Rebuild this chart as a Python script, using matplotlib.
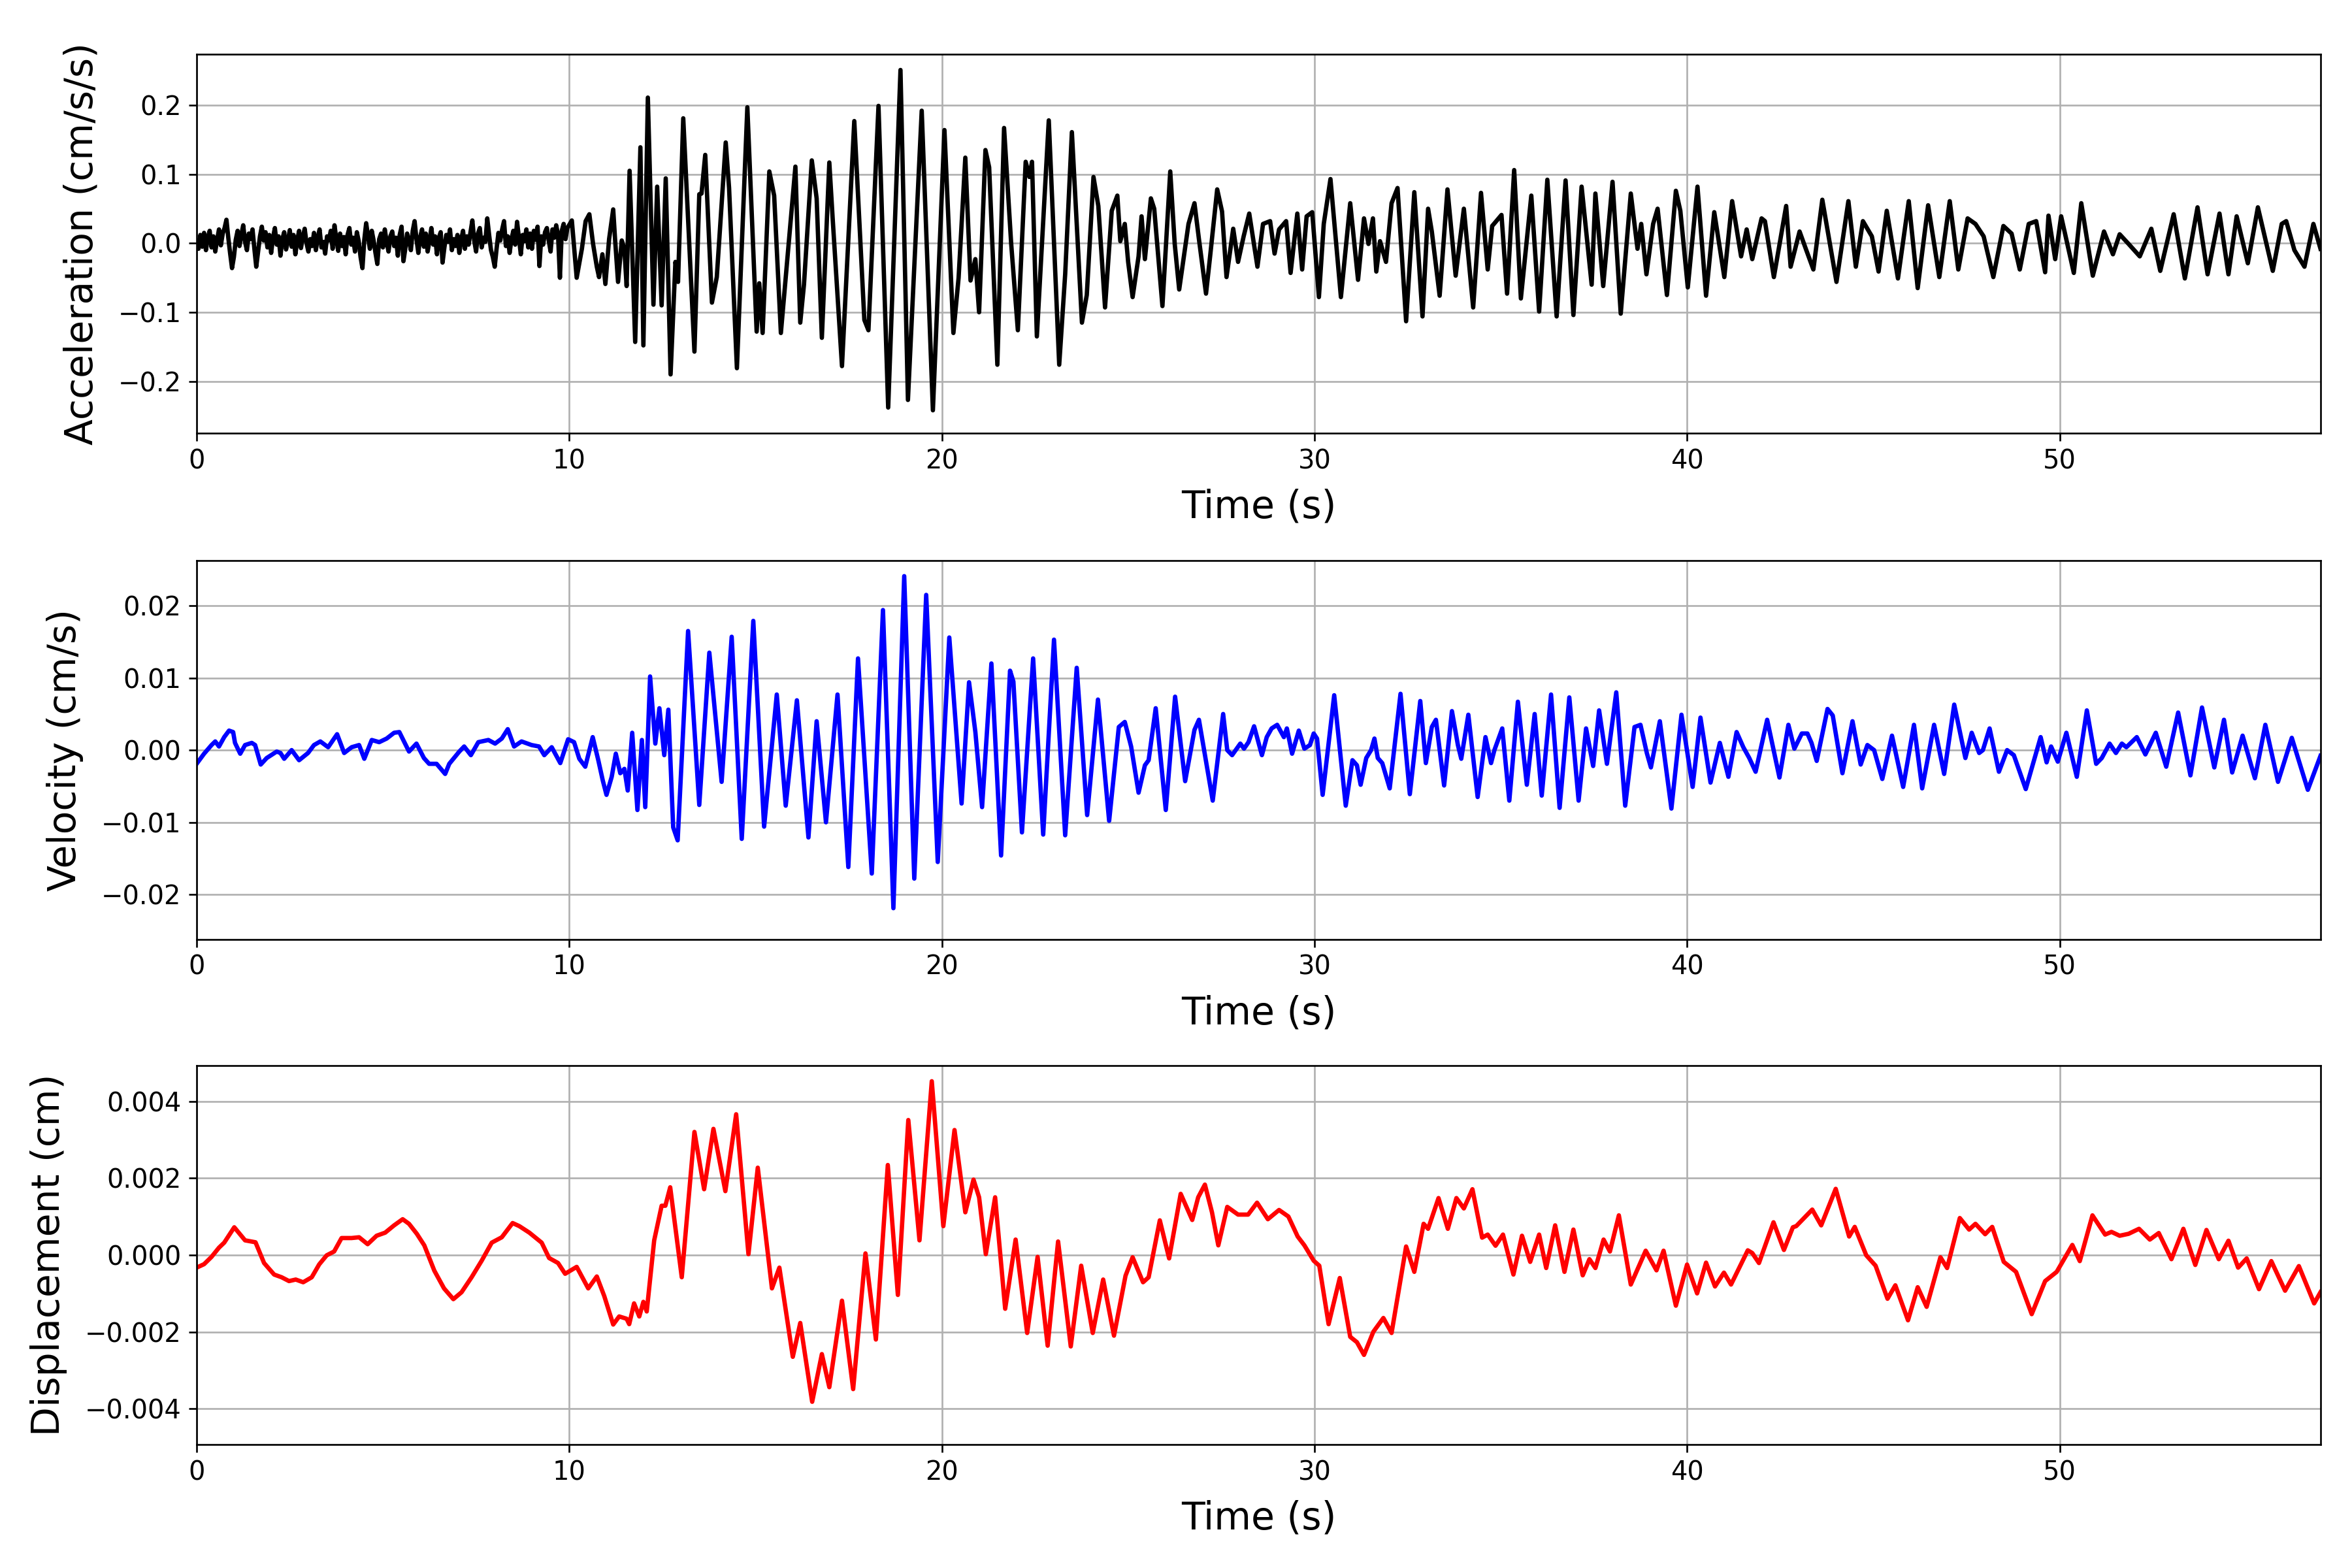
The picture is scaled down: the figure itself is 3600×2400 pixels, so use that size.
import numpy as np
import matplotlib
matplotlib.use('Agg')
import matplotlib.pyplot as plt

# ---------------------------------------------------------#
# Values                               #
# ---------------------------------------------------------#
# pre-event noise, acceleration sampled every 0.05 s, in 1e-3 cm/s/s
acc_pre_dt = 0.05
acc_pre = [
    3, -8, 12, -5, 15, -10, 8, 18, -6, 10, -12, 5, 20, -3, 14, 22, 34, 8, -15, -36,
    -20, 5, 18, -4, 12, 26, 2, -10, 14, 6, 20, -8, -34, -12, 10, 24, 4, 16, -6, 12,
    -14, 8, 22, -2, 10, -18, 6, 16, -9, 3, 19, -5, 12, -16, 4, 18, -7, 9, 21, 0,
    -12, 6, -4, 15, -10, 8, 20, -6, 2, -15, 10, 4, 18, -8, 26, 6, -11, 14, -4, 9,
    -16, 12, 22, -2, 8, -12, 16, 3, -20, -36, 5, 29, 10, -8, 18, 4, -14, -30, 6, 14,
    -6, 20, 2, -12, 10, 17, -4, 8, -18, 12, 24, -26, -8, 14, 4, -10, 18, 32, 6, -14,
    9, 20, -5, 14, -12, 4, 22, -2, 10, -16, 8, 16, -28, -6, 12, 2, 20, -10, 6, -4,
    12, -14, 5, 18, -8, 10, -2, 16, 33, 4, -12, 14, 22, -6, 8, 2, 36, 12, -10, -20,
    -34, -8, 15, 4, 20, 32, -4, 10, -14, 6, 18, -2, 31, 8, -16, 12, 3, 20, -6, 14,
    -8, 18, 5, 24, -33, 10, -2, 16, 22, 4, -12, 20, 8, 26, 12, -50, 18, 28, 6, 22,
]

# strong motion part: (time s, acceleration cm/s/s)
acc_t = [10.07, 10.2, 10.34, 10.44, 10.54, 10.64, 10.74, 10.8, 10.89, 10.97, 11.07, 11.18, 11.23, 11.31,
         11.41, 11.48, 11.54, 11.62, 11.77, 11.91, 11.99, 12.11, 12.26, 12.36, 12.48, 12.59, 12.72, 12.85,
         12.92, 13.06, 13.36, 13.49, 13.55, 13.65, 13.83, 13.96, 14.2, 14.29, 14.5, 14.78, 15.03, 15.1,
         15.19, 15.37, 15.5, 15.68, 16.07, 16.2, 16.3, 16.51, 16.64, 16.78, 16.98, 17.07, 17.32, 17.65,
         17.92, 18.03, 18.3, 18.56, 18.89, 19.09, 19.46, 19.76, 20.07, 20.31, 20.45, 20.63, 20.77, 20.9,
         21.0, 21.17, 21.27, 21.49, 21.67, 21.86, 22.04, 22.25, 22.35, 22.42, 22.55, 22.87, 23.15, 23.31,
         23.49, 23.76, 23.89, 24.07, 24.2, 24.38, 24.56, 24.71, 24.79, 24.91, 25.0, 25.12, 25.28, 25.36,
         25.45, 25.61, 25.7, 25.92, 26.13, 26.25, 26.37, 26.62, 26.78, 26.9, 27.09, 27.2, 27.39, 27.52,
         27.64, 27.82, 27.95, 28.1, 28.25, 28.47, 28.62, 28.81, 28.93, 29.05, 29.24, 29.36, 29.54, 29.67,
         29.79, 29.94, 30.12, 30.25, 30.43, 30.71, 30.96, 31.17, 31.33, 31.45, 31.57, 31.66, 31.76, 31.92,
         32.07, 32.23, 32.46, 32.68, 32.9, 33.05, 33.15, 33.36, 33.57, 33.79, 34.01, 34.26, 34.47, 34.65,
         34.77, 35.02, 35.17, 35.36, 35.54, 35.82, 36.03, 36.25, 36.5, 36.74, 36.95, 37.17, 37.44, 37.54,
         37.75, 38.0, 38.22, 38.49, 38.67, 38.77, 38.91, 39.09, 39.21, 39.46, 39.7, 39.82, 40.02, 40.28,
         40.51, 40.73, 41.0, 41.21, 41.45, 41.6, 41.75, 42.0, 42.09, 42.33, 42.66, 42.78, 43.02, 43.2,
         43.39, 43.63, 44.01, 44.33, 44.53, 44.72, 44.96, 45.14, 45.36, 45.66, 45.95, 46.19, 46.47, 46.77,
         47.05, 47.28, 47.53, 47.74, 47.96, 48.22, 48.49, 48.71, 48.93, 49.17, 49.37, 49.61, 49.7, 49.88,
         50.04, 50.38, 50.58, 50.89, 51.19, 51.43, 51.61, 51.85, 52.15, 52.46, 52.7, 53.06, 53.36, 53.7,
         53.97, 54.29, 54.53, 54.75, 55.05, 55.32, 55.72, 55.96, 56.08, 56.3, 56.57, 56.81, 57.0]
acc_v = [0.033, -0.05, -0.008, 0.032, 0.042, -0.001, -0.034, -0.049, -0.016, -0.059, 0.006, 0.049, 0.006, -0.056,
         0.004, -0.008, -0.062, 0.105, -0.143, 0.139, -0.148, 0.211, -0.089, 0.082, -0.09, 0.094, -0.19, -0.027,
         -0.056, 0.181, -0.157, 0.071, 0.072, 0.128, -0.086, -0.049, 0.146, 0.08, -0.181, 0.197, -0.128, -0.058,
         -0.13, 0.104, 0.069, -0.13, 0.111, -0.115, -0.06, 0.12, 0.065, -0.137, 0.117, 0.036, -0.178, 0.177,
         -0.111, -0.126, 0.199, -0.238, 0.251, -0.227, 0.192, -0.242, 0.164, -0.13, -0.05, 0.124, -0.054, -0.023,
         -0.1, 0.135, 0.11, -0.176, 0.167, 0.0, -0.126, 0.118, 0.096, 0.118, -0.135, 0.178, -0.176, -0.045,
         0.161, -0.115, -0.075, 0.096, 0.054, -0.093, 0.047, 0.069, 0.003, 0.028, -0.027, -0.078, -0.019, 0.039,
         -0.023, 0.065, 0.05, -0.091, 0.104, -0.001, -0.067, 0.028, 0.058, 0.006, -0.073, -0.019, 0.078, 0.046,
         -0.049, 0.021, -0.027, 0.01, 0.043, -0.034, 0.028, 0.032, -0.015, 0.02, 0.032, -0.043, 0.043, -0.038,
         0.039, 0.045, -0.078, 0.028, 0.093, -0.078, 0.058, -0.053, 0.036, -0.001, 0.036, -0.041, 0.003, -0.027,
         0.058, 0.08, -0.113, 0.074, -0.106, 0.05, 0.017, -0.076, 0.078, -0.047, 0.05, -0.093, 0.073, -0.038,
         0.025, 0.041, -0.073, 0.106, -0.08, 0.069, -0.099, 0.092, -0.106, 0.091, -0.104, 0.082, -0.06, 0.072,
         -0.062, 0.089, -0.102, 0.072, -0.008, 0.028, -0.045, 0.028, 0.05, -0.075, 0.076, 0.047, -0.064, 0.082,
         -0.076, 0.045, -0.049, 0.061, -0.019, 0.02, -0.023, 0.036, 0.032, -0.049, 0.054, -0.034, 0.017, -0.01,
         -0.038, 0.063, -0.056, 0.061, -0.034, 0.032, 0.01, -0.041, 0.047, -0.051, 0.061, -0.065, 0.055, -0.049,
         0.061, -0.038, 0.036, 0.028, 0.01, -0.049, 0.025, 0.014, -0.038, 0.028, 0.032, -0.042, 0.04, -0.023,
         0.039, -0.043, 0.058, -0.047, 0.017, -0.016, 0.013, -0.001, -0.019, 0.021, -0.04, 0.042, -0.051, 0.052,
         -0.045, 0.043, -0.045, 0.039, -0.029, 0.052, -0.04, 0.028, 0.032, -0.01, -0.034, 0.028, -0.008]

# velocity (time s, cm/s)
vel_t = [0.0, 0.2, 0.4, 0.5, 0.6, 0.74, 0.87, 0.98, 1.03, 1.17, 1.3, 1.48, 1.57, 1.72, 1.88, 2.0, 2.15, 2.25,
         2.35, 2.55, 2.75, 2.99, 3.15, 3.32, 3.53, 3.77, 3.96, 4.16, 4.36, 4.5, 4.7, 4.9, 5.1, 5.3, 5.44, 5.7,
         5.9, 6.1, 6.24, 6.44, 6.67, 6.78, 7.05, 7.18, 7.36, 7.56, 7.83, 8.01, 8.19, 8.35, 8.52, 8.72, 8.99,
         9.19, 9.33, 9.53, 9.76, 9.97, 10.13, 10.27, 10.43, 10.63, 10.78, 10.9, 11.0, 11.14, 11.25, 11.37,
         11.48, 11.57, 11.69, 11.83, 11.95, 12.04, 12.17, 12.31, 12.42, 12.55, 12.66, 12.79, 12.91, 13.19,
         13.49, 13.76, 14.09, 14.36, 14.63, 14.94, 15.23, 15.57, 15.81, 16.11, 16.42, 16.64, 16.89, 17.2,
         17.49, 17.75, 18.12, 18.42, 18.7, 18.99, 19.26, 19.58, 19.89, 20.2, 20.53, 20.73, 20.9, 21.08, 21.33,
         21.59, 21.83, 21.92, 22.15, 22.45, 22.72, 23.01, 23.31, 23.62, 23.9, 24.19, 24.49, 24.75, 24.91,
         25.08, 25.28, 25.45, 25.55, 25.74, 26.01, 26.26, 26.53, 26.78, 26.9, 27.27, 27.55, 27.66, 27.79,
         28.01, 28.11, 28.23, 28.38, 28.59, 28.72, 28.85, 29.0, 29.18, 29.26, 29.4, 29.58, 29.73, 29.88,
         29.98, 30.07, 30.22, 30.53, 30.84, 31.02, 31.14, 31.24, 31.39, 31.52, 31.61, 31.7, 31.82, 32.02,
         32.31, 32.56, 32.84, 32.99, 33.15, 33.26, 33.48, 33.69, 33.85, 33.94, 34.13, 34.38, 34.59, 34.74,
         34.83, 35.04, 35.23, 35.46, 35.7, 35.91, 36.1, 36.35, 36.58, 36.84, 37.09, 37.29, 37.48, 37.64,
         37.85, 38.1, 38.34, 38.59, 38.75, 38.92, 39.03, 39.27, 39.58, 39.85, 40.15, 40.36, 40.63, 40.88,
         41.11, 41.33, 41.51, 41.67, 41.84, 42.15, 42.48, 42.72, 42.88, 43.08, 43.23, 43.34, 43.48, 43.77,
         43.91, 44.17, 44.44, 44.66, 44.84, 45.02, 45.24, 45.5, 45.8, 46.09, 46.31, 46.63, 46.9, 47.17,
         47.47, 47.64, 47.84, 47.94, 48.12, 48.37, 48.59, 48.77, 49.09, 49.49, 49.65, 49.77, 49.95, 50.18,
         50.46, 50.73, 50.98, 51.13, 51.34, 51.51, 51.67, 51.79, 52.07, 52.3, 52.58, 52.86, 53.18, 53.51,
         53.82, 54.15, 54.41, 54.63, 54.91, 55.24, 55.52, 55.86, 56.23, 56.66, 57.0]
vel_v = [-0.0019, -0.0005, 0.0007, 0.0012, 0.0005, 0.0018, 0.0027, 0.0025, 0.001, -0.0005, 0.0007, 0.001, 0.0007,
         -0.002, -0.0011, -0.0007, -0.0002, -0.0004, -0.0012, 0.0, -0.0014, -0.0004, 0.0007, 0.0012, 0.0004,
         0.0022, -0.0004, 0.0004, 0.0007, -0.0012, 0.0014, 0.0011, 0.0016, 0.0024, 0.0025, -0.0002, 0.0009,
         -0.0011, -0.0019, -0.0019, -0.0033, -0.0019, -0.0002, 0.0005, -0.0007, 0.0011, 0.0014, 0.0009, 0.0016,
         0.0029, 0.0005, 0.0012, 0.0007, 0.0005, -0.0007, 0.0004, -0.0018, 0.0015, 0.0011, -0.0012, -0.0023,
         0.0018, -0.0014, -0.0042, -0.0062, -0.0037, -0.0005, -0.0032, -0.0026, -0.0056, 0.0024, -0.0083,
         0.0014, -0.0079, 0.0102, 0.0009, 0.0058, -0.0007, 0.0056, -0.0107, -0.0125, 0.0165, -0.0076, 0.0135,
         -0.0044, 0.0157, -0.0123, 0.0179, -0.0106, 0.0077, -0.0077, 0.0069, -0.0121, 0.004, -0.01, 0.0077,
         -0.0162, 0.0127, -0.0171, 0.0194, -0.0219, 0.0241, -0.0178, 0.0215, -0.0155, 0.0156, -0.0074, 0.0094,
         0.0025, -0.0079, 0.012, -0.0146, 0.011, 0.0095, -0.0114, 0.0127, -0.0117, 0.0153, -0.0118, 0.0114,
         -0.009, 0.007, -0.0098, 0.0032, 0.0039, 0.0005, -0.0059, -0.0021, -0.0014, 0.0058, -0.0083, 0.0074,
         -0.0043, 0.0028, 0.0042, -0.007, 0.005, 0.0, -0.0007, 0.0009, 0.0002, 0.0011, 0.0033, -0.0007, 0.0018,
         0.003, 0.0035, 0.0018, 0.003, -0.0005, 0.0027, 0.0002, 0.0007, 0.0023, 0.0016, -0.0062, 0.0076,
         -0.0077, -0.0014, -0.0021, -0.0048, -0.0011, 0.0, 0.0016, -0.0011, -0.0018, -0.0053, 0.0078, -0.0061,
         0.0068, -0.0018, 0.0032, 0.0042, -0.0049, 0.0054, 0.0007, -0.0012, 0.0049, -0.0065, 0.0018, -0.0018,
         0.0, 0.003, -0.007, 0.0067, -0.0048, 0.005, -0.0063, 0.0077, -0.008, 0.0073, -0.007, 0.003, -0.0022,
         0.0055, -0.0019, 0.008, -0.0077, 0.0032, 0.0035, -0.0004, -0.0024, 0.004, -0.0081, 0.0049, -0.0051,
         0.0045, -0.0045, 0.001, -0.0037, 0.0025, 0.0004, -0.0011, -0.003, 0.0042, -0.0038, 0.0035, 0.0002,
         0.0023, 0.0023, 0.001, -0.0015, 0.0057, 0.0048, -0.0032, 0.004, -0.002, 0.0007, 0.0, -0.004, 0.002,
         -0.0051, 0.0035, -0.0053, 0.0035, -0.0033, 0.0063, -0.0011, 0.0024, -0.0004, 0.0, 0.003, -0.003, 0.0,
         -0.0007, -0.0054, 0.0018, -0.0017, 0.0005, -0.0016, 0.0024, -0.0037, 0.0055, -0.0019, -0.0011, 0.0009,
         -0.0004, 0.0009, 0.0004, 0.0018, -0.0006, 0.0024, -0.0023, 0.0052, -0.0035, 0.0059, -0.0024, 0.0042,
         -0.0031, 0.002, -0.0039, 0.0035, -0.0044, 0.0017, -0.0055, -0.0008]

# displacement (time s, 1e-3 cm)
dis_t = [0.0, 0.2, 0.4, 0.6, 0.74, 1.01, 1.3, 1.58, 1.81, 2.08, 2.28, 2.48, 2.66, 2.86, 3.09, 3.29, 3.49, 3.69,
         3.89, 4.16, 4.36, 4.59, 4.83, 5.06, 5.3, 5.53, 5.7, 5.91, 6.11, 6.38, 6.64, 6.89, 7.11, 7.38, 7.65,
         7.92, 8.19, 8.48, 8.66, 8.93, 9.26, 9.46, 9.7, 9.89, 10.2, 10.51, 10.74, 10.94, 11.18, 11.34, 11.54,
         11.61, 11.74, 11.88, 11.99, 12.08, 12.28, 12.48, 12.58, 12.71, 13.02, 13.36, 13.62, 13.87, 14.19,
         14.48, 14.81, 15.06, 15.44, 15.64, 16.0, 16.2, 16.52, 16.78, 16.98, 17.32, 17.62, 17.95, 18.23,
         18.55, 18.82, 19.1, 19.4, 19.73, 20.04, 20.34, 20.63, 20.85, 21.0, 21.18, 21.43, 21.7, 21.98, 22.29,
         22.57, 22.84, 23.12, 23.46, 23.74, 24.05, 24.33, 24.62, 24.93, 25.12, 25.4, 25.55, 25.85, 26.1,
         26.41, 26.72, 26.88, 27.06, 27.25, 27.42, 27.66, 27.95, 28.22, 28.46, 28.75, 29.05, 29.3, 29.55,
         29.73, 29.98, 30.13, 30.38, 30.68, 30.96, 31.14, 31.33, 31.58, 31.85, 32.07, 32.46, 32.68, 32.93,
         33.05, 33.33, 33.58, 33.81, 34.01, 34.24, 34.5, 34.65, 34.86, 35.06, 35.34, 35.57, 35.79, 36.03,
         36.22, 36.46, 36.71, 36.95, 37.2, 37.38, 37.54, 37.76, 37.93, 38.17, 38.49, 38.89, 39.18, 39.37,
         39.7, 40.0, 40.27, 40.51, 40.75, 40.99, 41.18, 41.63, 41.75, 41.93, 42.32, 42.6, 42.84, 42.93, 43.36,
         43.6, 43.99, 44.35, 44.5, 44.81, 45.06, 45.38, 45.59, 45.93, 46.19, 46.43, 46.8, 46.98, 47.32,
         47.57, 47.74, 48.0, 48.19, 48.5, 48.83, 49.25, 49.61, 49.92, 50.34, 50.54, 50.88, 51.22, 51.39,
         51.61, 51.85, 52.13, 52.42, 52.66, 53.0, 53.32, 53.64, 53.94, 54.27, 54.53, 54.79, 55.02, 55.35,
         55.68, 56.05, 56.42, 56.83, 57.0]
dis_v = [-0.33, -0.24, -0.05, 0.19, 0.32, 0.72, 0.38, 0.33, -0.21, -0.51, -0.58, -0.68, -0.64, -0.71, -0.58,
         -0.245, -0.01, 0.09, 0.44, 0.44, 0.46, 0.28, 0.5, 0.58, 0.77, 0.93, 0.81, 0.55, 0.25, -0.41, -0.87,
         -1.15, -0.97, -0.58, -0.15, 0.32, 0.46, 0.83, 0.75, 0.58, 0.32, -0.08, -0.21, -0.49, -0.31, -0.87,
         -0.56, -1.07, -1.81, -1.6, -1.66, -1.8, -1.26, -1.6, -1.22, -1.47, 0.38, 1.28, 1.28, 1.76, -0.58,
         3.2, 1.71, 3.28, 1.66, 3.66, 0.02, 2.27, -0.87, -0.33, -2.65, -1.77, -3.82, -2.58, -3.44, -1.19,
         -3.49, 0.04, -2.2, 2.34, -1.04, 3.51, 0.38, 4.52, 0.75, 3.25, 1.11, 1.96, 1.5, 0.02, 1.5, -1.4, 0.4,
         -2.03, -0.05, -2.36, 0.35, -2.38, -0.28, -2.03, -0.64, -2.1, -0.54, -0.06, -0.71, -0.58, 0.9, -0.09,
         1.59, 0.91, 1.5, 1.83, 1.11, 0.25, 1.25, 1.05, 1.05, 1.36, 0.93, 1.17, 1.0, 0.48, 0.25, -0.15, -0.28,
         -1.8, -0.6, -2.13, -2.27, -2.6, -2.0, -1.64, -2.03, 0.22, -0.44, 0.81, 0.68, 1.48, 0.68, 1.48, 1.21,
         1.71, 0.45, 0.53, 0.24, 0.53, -0.51, 0.5, -0.18, 0.53, -0.34, 0.77, -0.44, 0.66, -0.53, -0.11, -0.34,
         0.4, 0.09, 1.03, -0.77, 0.11, -0.4, 0.11, -1.32, -0.25, -1.0, -0.2, -0.82, -0.46, -0.77, 0.12, 0.05,
         -0.21, 0.85, 0.13, 0.72, 0.75, 1.18, 0.77, 1.72, 0.48, 0.73, -0.01, -0.28, -1.14, -0.79, -1.7, -0.84,
         -1.35, -0.06, -0.34, 0.96, 0.66, 0.81, 0.54, 0.73, -0.18, -0.44, -1.54, -0.68, -0.44, 0.26, -0.16,
         1.03, 0.53, 0.6, 0.5, 0.55, 0.68, 0.4, 0.57, -0.11, 0.68, -0.26, 0.65, -0.11, 0.37, -0.33, -0.09,
         -0.89, -0.16, -0.93, -0.29, -1.26, -0.97]

# ---------------------------------------------------------#
# Assemble series                                          #
# ---------------------------------------------------------#
t_pre = np.arange(len(acc_pre)) * acc_pre_dt
t_acc = np.concatenate([t_pre, np.array(acc_t)])
a_acc = np.concatenate([np.array(acc_pre) * 1e-3, np.array(acc_v)])
t_vel = np.array(vel_t)
v_vel = np.array(vel_v)
t_dis = np.array(dis_t)
d_dis = np.array(dis_v) * 1e-3

label_size = 17.5
tick_size = 12
lw = 2.0

fig = plt.figure(figsize=(15, 10), dpi=240)
left, width, height = 0.0836, 0.903, 0.2417
ax1 = fig.add_axes([left, 0.7238, width, height])
ax2 = fig.add_axes([left, 0.4010, width, height])
ax3 = fig.add_axes([left, 0.0788, width, height])

panels = [
    (ax1, t_acc, a_acc, 'k', 'Acceleration (cm/s/s)', (-0.275, 0.274)),
    (ax2, t_vel, v_vel, 'b', 'Velocity (cm/s)', (-0.0262, 0.0263)),
    (ax3, t_dis, d_dis, 'r', 'Displacement (cm)', (-0.00493, 0.00493)),
]
for ax, t, y, c, lab, yl in panels:
    ax.plot(t, y, color=c, linewidth=lw)
    ax.set_xlim(0, 57.0)
    ax.set_ylim(*yl)
    ax.set_xlabel('Time (s)', fontsize=label_size, labelpad=6.5)
    ax.set_ylabel(lab, fontsize=label_size, labelpad=8)
    ax.tick_params(labelsize=tick_size)
    ax.grid(True)

ax1.set_yticks([-0.2, -0.1, 0.0, 0.1, 0.2])
ax2.set_yticks([-0.02, -0.01, 0.0, 0.01, 0.02])
ax3.set_yticks([-0.004, -0.002, 0.0, 0.002, 0.004])

fig.savefig('out.png', dpi=240)
